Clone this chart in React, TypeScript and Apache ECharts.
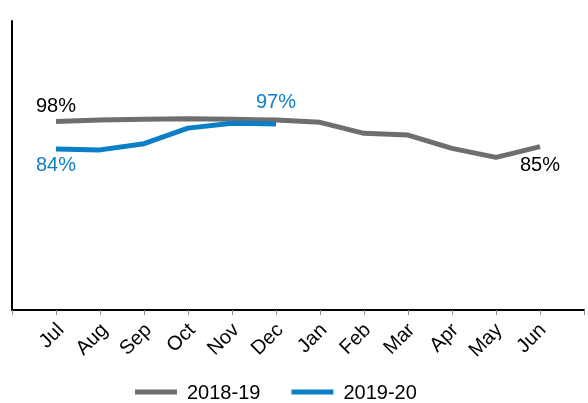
import React, { useEffect, useRef } from "react";
import * as echarts from "echarts";

const categories = ["", "Jul", "Aug", "Sep", "Oct", "Nov", "Dec", "Jan", "Feb", "Mar", "Apr", "May", "Jun", ""];
const series1819: (number | null)[] = [null, 97.8, 98.6, 99.0, 99.2, 99.0, 98.6, 97.4, 91.7, 90.8, 83.9, 79.2, 84.8, null];
const series1920: (number | null)[] = [null, 83.6, 83.1, 86.3, 94.4, 96.9, 96.6, null, null, null, null, null, null, null];
const seriesNames = ["2018-19", "2019-20"];

const FONT = "'Liberation Sans', Arial, sans-serif";
const GRAY = "#6e6e6e";
const BLUE = "#0b7fc6";

export default function App() {
  const ref = useRef<HTMLDivElement>(null);
  useEffect(() => {
    if (!ref.current) return;
    const chart = echarts.init(ref.current, null, { renderer: "svg" });

    const lbl = (position: string, distance: number, color: string) => ({
      show: true,
      position,
      distance,
      color,
      fontSize: 20,
      fontFamily: FONT,
      formatter: (p: any) => Math.round(p.value) + "%",
    });

    const grayData = series1819.map((v, i) => {
      if (i === 1) return { value: v, label: lbl("top", 7, "#000") };
      if (i === 12) return { value: v, label: lbl("bottom", 7, "#000") };
      return v;
    });
    const blueData = series1920.map((v, i) => {
      if (i === 1) return { value: v, label: lbl("bottom", 5, BLUE) };
      if (i === 6) return { value: v, label: lbl("top", 13, BLUE) };
      return v;
    });

    chart.setOption({
      animation: false,
      grid: [
        { left: 12, right: 4, top: 21, bottom: 93, containLabel: false },
        { left: 16, right: 0, top: 21, bottom: 93, containLabel: false },
      ],
      legend: {
        left: 130,
        top: 377,
        itemWidth: 42,
        itemHeight: 5,
        itemGap: 31,
        icon: "rect",
        textStyle: { fontSize: 20, fontFamily: FONT, color: "#000", padding: [0, 0, 0, 5] },
        data: seriesNames,
      },
      xAxis: [
        {
          type: "category",
          gridIndex: 0,
          boundaryGap: false,
          data: categories,
          axisLine: { show: true, lineStyle: { color: "#000", width: 2 } },
          axisTick: { show: true, interval: 0, length: 5, lineStyle: { color: "#888", width: 1 } },
          axisLabel: { show: false },
          splitLine: { show: false },
        },
        {
          type: "category",
          gridIndex: 1,
          boundaryGap: false,
          data: categories,
          axisLine: { show: false },
          axisTick: { show: false },
          axisLabel: {
            interval: 0,
            rotate: 45,
            margin: 16,
            fontSize: 20,
            fontFamily: FONT,
            color: "#000",
          },
          splitLine: { show: false },
        },
      ],
      yAxis: [
        {
          type: "value",
          gridIndex: 0,
          min: 0,
          max: 150,
          axisLine: { show: true, lineStyle: { color: "#000", width: 2 } },
          axisTick: { show: false },
          axisLabel: { show: false },
          splitLine: { show: false },
        },
        {
          type: "value",
          gridIndex: 1,
          min: 0,
          max: 150,
          show: false,
        },
      ],
      series: [
        {
          name: seriesNames[0],
          type: "line",
          data: grayData,
          symbol: "circle",
          symbolSize: 0,
          showSymbol: true,
          color: GRAY,
          lineStyle: { color: GRAY, width: 5 },
          connectNulls: false,
        },
        {
          name: seriesNames[1],
          type: "line",
          data: blueData,
          symbol: "circle",
          symbolSize: 0,
          showSymbol: true,
          color: BLUE,
          lineStyle: { color: BLUE, width: 5 },
          connectNulls: false,
        },
      ],
    });
    return () => chart.dispose();
  }, []);
  return <div ref={ref} style={{ position: "fixed", left: 0, top: 0, width: 588, height: 403 }} />;
}
